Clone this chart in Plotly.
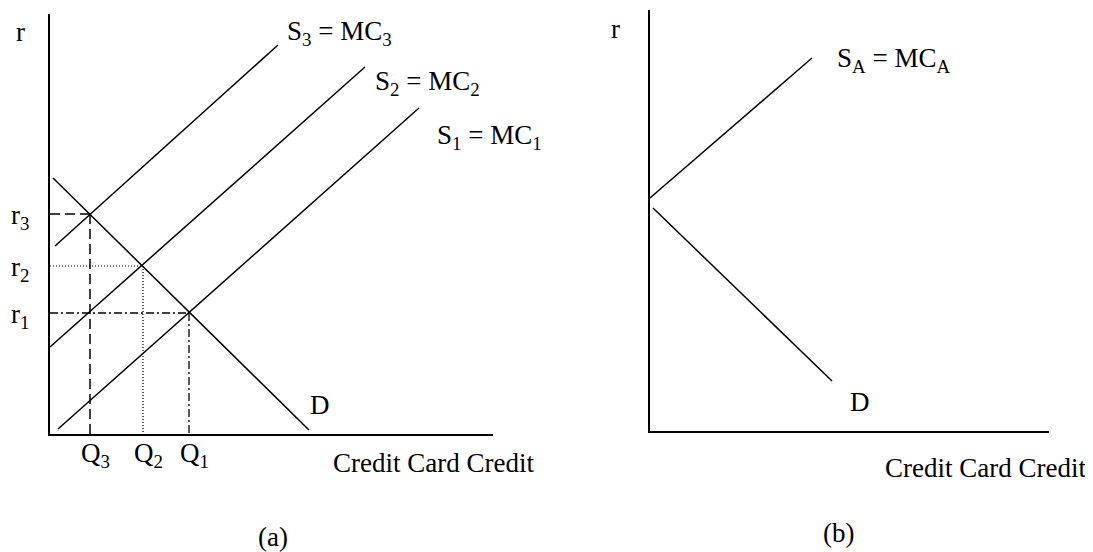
import plotly.graph_objects as go

# ---- panel (a): three supply curves, one demand curve ----
# quantity / interest-rate units
d_a_q = [0.3, 25.9]
d_a_r = [25.6, 0.4]
s3_q = [0.5, 22.8]
s3_r = [18.8, 38.9]
s2_q = [0.0, 31.5]
s2_r = [8.7, 36.7]
s1_q = [0.8, 36.9]
s1_r = [0.5, 32.6]

# equilibria (S1, S2, S3 with D)
eq_q = [13.9, 9.3, 4.0]
eq_r = [12.1, 16.8, 22.0]
eq_names = ["1", "2", "3"]

# ---- panel (b) ----
sa_q = [0.0, 16.2]
sa_r = [23.3, 37.3]
d_b_q = [0.3, 18.2]
d_b_r = [22.3, 5.0]

# the page body has an 8px margin, so the figure is a bit smaller and offset
OFF = 8
W, H = 1093 - OFF, 552 - OFF
FONT = "Liberation Serif"
FS = 27


def px_x(p):
    return (p - OFF) / W


def px_y(p):
    return 1 - (p - OFF) / H


fig = go.Figure()

solid = dict(color="black", width=1.5)


def add_line(q, r, ax, line=solid):
    fig.add_trace(go.Scatter(x=q, y=r, mode="lines", line=line,
                             xaxis="x" + ax, yaxis="y" + ax,
                             hoverinfo="skip", showlegend=False))


add_line(d_a_q, d_a_r, "")
add_line(s3_q, s3_r, "")
add_line(s2_q, s2_r, "")
add_line(s1_q, s1_r, "")

# guide lines to the axes
styles = [
    dict(color="black", width=1.3, dash="8px,3px,2px,3px"),  # r1 dash-dot
    dict(color="black", width=1.2, dash="1px,2px"),          # r2 dotted
    dict(color="black", width=1.5, dash="10px,5px"),         # r3 dashed
]
for q, r, st in zip(eq_q, eq_r, styles):
    add_line([0, q], [r, r], "", st)
    add_line([q, q], [r, 0], "", st)

add_line(sa_q, sa_r, "2")
add_line(d_b_q, d_b_r, "2")

ax_common = dict(showgrid=False, zeroline=False, showticklabels=False,
                 ticks="", showline=True, linecolor="black", linewidth=2,
                 fixedrange=True)

fig.update_layout(
    width=W, height=H,
    margin=dict(l=0, r=0, t=0, b=0),
    plot_bgcolor="white", paper_bgcolor="white",
    font=dict(family=FONT, size=FS, color="black"),
    xaxis=dict(domain=[px_x(50), px_x(493)], range=[0, 44.3], anchor="y", **ax_common),
    yaxis=dict(domain=[px_y(434), px_y(14)], range=[0, 42.0], anchor="x", **ax_common),
    xaxis2=dict(domain=[px_x(650), px_x(1049)], range=[0, 39.9], anchor="y2", **ax_common),
    yaxis2=dict(domain=[px_y(431), px_y(10)], range=[0, 42.1], anchor="x2", **ax_common),
)

ann = []


def label(text, **kw):
    d = dict(text=text, showarrow=False, xanchor="center", yanchor="middle",
             font=dict(family=FONT, size=FS, color="black"))
    d.update(kw)
    ann.append(d)


# panel (a) labels
label("r", xref="paper", x=px_x(20), yref="y", y=40.2)
for q, r, n in zip(eq_q, eq_r, eq_names):
    label("r<sub>%s</sub>" % n, xref="paper", x=px_x(31), xanchor="right",
          yref="y", y=r, yshift=-3)
    label("Q<sub>%s</sub>" % n, xref="x", x=q, xshift=5,
          yref="paper", y=px_y(455))
label("D", xref="x", x=27.0, yref="y", y=2.9)
label("S<sub>3</sub> = MC<sub>3</sub>", xref="x", x=s3_q[-1], xanchor="left", xshift=7,
      yref="y", y=s3_r[-1], yshift=12)
label("S<sub>2</sub> = MC<sub>2</sub>", xref="x", x=s2_q[-1], xanchor="left", xshift=8,
      yref="y", y=s2_r[-1], yshift=-16)
label("S<sub>1</sub> = MC<sub>1</sub>", xref="x", x=s1_q[-1], xanchor="left", xshift=16,
      yref="y", y=s1_r[-1], yshift=-29)
label("Credit Card Credit", xref="x", x=38.3, yref="paper", y=px_y(463))
label("(a)", xref="x", x=22.3, yref="paper", y=px_y(537))

# panel (b) labels
label("r", xref="paper", x=px_x(615), yref="y2", y=40.2)
label("S<sub>A</sub> = MC<sub>A</sub>", xref="x2", x=sa_q[-1], xanchor="left", xshift=23,
      yref="y2", y=sa_r[-1], yshift=-2)
label("D", xref="x2", x=21.0, yref="y2", y=2.9)
label("Credit Card Credit", xref="x2", x=33.5, yref="paper", y=px_y(468))
label("(b)", xref="x2", x=18.8, yref="paper", y=px_y(533))

fig.update_layout(annotations=ann)

fig.write_html("out.html")
